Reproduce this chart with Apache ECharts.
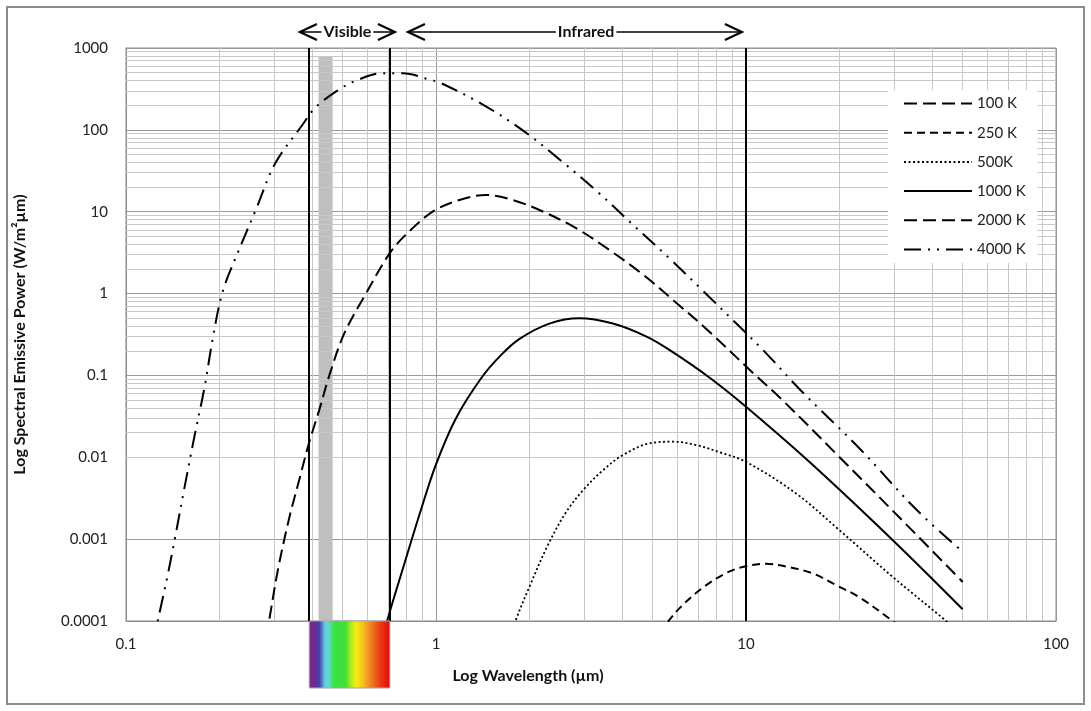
<!DOCTYPE html>
<html><head><meta charset="utf-8">
<script src="https://cdn.jsdelivr.net/npm/echarts@6/dist/echarts.min.js"></script>
<style>html,body{margin:0;padding:0;background:#fff}#c{width:1091px;height:711px}</style>
</head><body><div id="c"></div>
<script>
// ---------- data ----------
const xTickLabels = ['0.1', '1', '10', '100'];
const yTickLabels = ['0.0001', '0.001', '0.01', '0.1', '1', '10', '100', '1000'];
const seriesNames = ['100 K', '250 K', '500K', '1000 K', '2000 K', '4000 K'];

// [wavelength (µm), spectral emissive power]
const s100K = [];
const s250K = [[5.3, 7.2e-5], [5.66, 1.03e-4], [6.25, 1.57e-4], [7.25, 2.55e-4], [8.62, 3.85e-4], [9.84, 4.6e-4],
  [11.6, 5.0e-4], [13.8, 4.55e-4], [16.4, 3.82e-4], [19.5, 2.75e-4], [23.2, 1.95e-4], [29.7, 1.0e-4], [40, 4.2e-5], [50, 2.3e-5]];
const s500K = [[1.7, 5e-5], [1.81, 1.03e-4], [2.0, 2.6e-4], [2.29, 8.3e-4], [2.62, 2.1e-3], [2.97, 3.9e-3],
  [3.45, 6.9e-3], [4.0, 0.0106], [4.88, 0.0148], [5.8, 0.0155], [6.9, 0.0141], [8.41, 0.0112], [10, 8.8e-3],
  [14.5, 3.62e-3], [20, 1.29e-3], [29.7, 3.47e-4], [44.2, 1.0e-4], [50, 6.5e-5]];
const s1000K = [[0.66, 4.5e-5], [0.698, 1.05e-4], [0.8, 5.8e-4], [0.895, 2.3e-3], [1.0, 8.2e-3], [1.16, 0.03],
  [1.4, 0.093], [1.62, 0.177], [1.86, 0.28], [2.32, 0.43], [2.9, 0.5], [3.72, 0.43], [4.76, 0.3],
  [5.66, 0.205], [7.6, 0.095], [10, 0.0414], [16, 0.0088], [29.7, 9.76e-4], [50, 1.39e-4]];
const s2000K = [[0.27, 2.2e-5], [0.29, 1.05e-4], [0.309, 4.2e-4], [0.336, 1.8e-3], [0.362, 5.27e-3], [0.389, 0.0148],
  [0.42, 0.0377], [0.455, 0.106], [0.506, 0.326], [0.587, 0.92], [0.716, 3.27], [0.841, 6.3], [0.987, 10.3],
  [1.19, 13.9], [1.45, 16.0], [1.77, 13.9], [2.21, 10.06], [2.83, 6.3], [3.62, 3.42], [4.64, 1.72], [5.94, 0.78],
  [7.6, 0.345], [10.25, 0.118], [13.1, 0.05], [20, 0.0101], [31.2, 0.00185], [50, 0.0003]];
const s4000K = [[0.12, 4e-5], [0.128, 1.22e-4], [0.136, 3.5e-4], [0.144, 1.05e-3], [0.155, 4.6e-3], [0.166, 0.0175],
  [0.179, 0.07], [0.191, 0.3], [0.205, 1.05], [0.229, 3.11], [0.263, 10.8], [0.303, 39], [0.372, 117],
  [0.408, 187], [0.482, 304], [0.552, 400], [0.673, 491], [0.781, 491], [0.963, 406], [1.03, 378], [1.425, 201],
  [1.93, 95], [2.55, 41], [3.36, 16.8], [4.36, 6.7], [5.7, 2.63], [7.3, 1.06], [9.4, 0.415], [11.5, 0.194],
  [15.0, 0.066], [23.2, 0.0129], [35.3, 0.00233], [50, 0.0007]];
const seriesData = [s100K, s250K, s500K, s1000K, s2000K, s4000K];

const regionLines = [0.39, 0.71, 10];            // vertical black lines (µm)
const greyBand = [0.418, 0.464, 800];            // x from, x to, top value
const spectrumRange = [0.39, 0.71];
const annotations = [
  {text: 'Visible', from: 0.364, to: 0.737, at: 0.518},
  {text: 'Infrared', from: 0.812, to: 9.7, at: 3.05}
];

// ---------- styles ----------
const dashes = {'100 K': [13, 6], '250 K': [8, 5], '500K': [2, 2.5], '1000 K': 'solid', '2000 K': [13, 6], '4000 K': [17, 7, 2, 7, 2, 7]};
const FONT = 'Lato, "Open Sans", sans-serif';

function tickLabel(v, labels) {
  const e = Math.round(Math.log10(v));
  for (const l of labels) if (Math.round(Math.log10(parseFloat(l))) === e) return l;
  return '';
}
function minorVals(lo, hi) {
  const out = [];
  for (let e = lo; e < hi; e++) for (let k = 2; k <= 9; k++) out.push(+(k * Math.pow(10, e)).toPrecision(6));
  return out;
}

const chart = echarts.init(document.getElementById('c'), null, {renderer: 'canvas'});

const curveSeries = seriesNames.map((n, i) => ({
  name: n, type: 'line', data: seriesData[i], showSymbol: false, symbol: 'none', smooth: 0.35,
  silent: true, z: 5, animation: false, itemStyle: {color: '#000'},
  lineStyle: {color: '#000', width: n === '500K' ? 1.8 : 2, type: dashes[n], cap: 'butt'}
}));

const option = {
  animation: false,
  backgroundColor: '#fff',
  grid: {left: 126, right: 35, top: 48, bottom: 90, show: true, borderColor: '#8c8c8c', borderWidth: 1,
    backgroundColor: '#fff', containLabel: false, outerBoundsMode: 'none'},
  xAxis: {
    type: 'log', logBase: 10, min: 0.1, max: 100, splitNumber: 3,
    axisLine: {show: true, onZero: false, lineStyle: {color: '#8c8c8c', width: 1}},
    axisTick: {show: false},
    splitLine: {show: true, lineStyle: {color: '#999', width: 1}},
    axisLabel: {margin: 16, fontFamily: FONT, fontSize: 15, color: '#222', formatter: v => tickLabel(v, xTickLabels)}
  },
  yAxis: {
    type: 'log', logBase: 10, min: 0.0001, max: 1000, splitNumber: 7,
    axisLine: {show: true, lineStyle: {color: '#8c8c8c', width: 1}},
    axisTick: {show: false},
    splitLine: {show: true, lineStyle: {color: '#999', width: 1}},
    axisLabel: {margin: 18, fontFamily: FONT, fontSize: 15, color: '#222', formatter: v => tickLabel(v, yTickLabels)},
    name: 'Log Spectral Emissive Power (W/m\u00B2\u00B5m)', nameLocation: 'middle', nameGap: 98, nameRotate: 90,
    nameTextStyle: {fontFamily: FONT, fontSize: 16, fontWeight: 'bold', color: '#111'}
  },
  legend: {
    data: seriesNames, orient: 'vertical', left: 888, top: 90, padding: [6, 12, 6, 15], z: 100, zlevel: 0,
    itemWidth: 68, itemHeight: 14, itemGap: 14.2, backgroundColor: '#fff', selectedMode: false,
    itemStyle: {color: 'transparent', borderColor: 'transparent', borderWidth: 0, opacity: 0},
    textStyle: {fontFamily: FONT, fontSize: 15, color: '#222', lineHeight: 14}
  },
  series: [
    {
      type: 'line', data: [], silent: true, z: 1, animation: false,
      markLine: {
        silent: true, symbol: ['none', 'none'], label: {show: false}, animation: false,
        emphasis: {disabled: true},
        lineStyle: {color: '#c8c8c8', width: 1, type: 'solid'},
        data: [...minorVals(-1, 2).map(v => ({xAxis: v})), ...minorVals(-4, 3).map(v => ({yAxis: v}))]
      }
    },
    {
      type: 'line', data: [], silent: true, z: 3, animation: false,
      markArea: {
        silent: true, animation: false, itemStyle: {color: '#bfbfbf'}, label: {show: false},
        data: [[{xAxis: greyBand[0], yAxis: 0.0001}, {xAxis: greyBand[1], yAxis: greyBand[2]}]]
      },
      markLine: {
        silent: true, symbol: ['none', 'none'], label: {show: false}, animation: false,
        emphasis: {disabled: true},
        lineStyle: {color: '#000', width: 2, type: 'solid'},
        data: regionLines.map(v => ({xAxis: v}))
      }
    },
    ...curveSeries
  ]
};
chart.setOption(option);

// ---------- decorations positioned through the axes ----------
const P = (x, y) => chart.convertToPixel({gridIndex: 0}, [x, y]);
const yBottom = P(1, 0.0001)[1];
const yTop = P(1, 1000)[1];
const ay = yTop - 16;
const graphics = [];

graphics.push({type: 'rect', silent: true, z: 0,
  shape: {x: 7, y: 7, width: 1077, height: 697},
  style: {fill: 'transparent', stroke: '#8c8c8c', lineWidth: 2}});

const sx0 = P(spectrumRange[0], 1)[0], sx1 = P(spectrumRange[1], 1)[0];
graphics.push({type: 'rect', silent: true, z: 10,
  shape: {x: sx0, y: yBottom, width: sx1 - sx0, height: 67},
  style: {
    stroke: '#a6a6a6', lineWidth: 1,
    fill: new echarts.graphic.LinearGradient(0, 0, 1, 0, [
      {offset: 0, color: '#7d2a86'}, {offset: 0.08, color: '#6e2a92'}, {offset: 0.13, color: '#4040a8'},
      {offset: 0.2, color: '#6ccbe6'}, {offset: 0.25, color: '#5cdcc0'}, {offset: 0.31, color: '#3ae045'},
      {offset: 0.45, color: '#40e035'}, {offset: 0.52, color: '#b4ea20'}, {offset: 0.58, color: '#f2ee10'},
      {offset: 0.66, color: '#f5c41f'}, {offset: 0.77, color: '#f07a22'}, {offset: 0.88, color: '#e83a12'},
      {offset: 1, color: '#e00808'}
    ])
  }});

annotations.forEach(a => {
  const x0 = P(a.from, 1)[0], x1 = P(a.to, 1)[0], xc = P(a.at, 1)[0];
  graphics.push({type: 'line', silent: true, z: 20, shape: {x1: x0, y1: ay, x2: x1, y2: ay},
    style: {stroke: '#000', lineWidth: 1.5}});
  graphics.push({type: 'polyline', silent: true, z: 20, shape: {points: [[x0 + 17, ay - 8], [x0, ay], [x0 + 17, ay + 8]]},
    style: {stroke: '#000', lineWidth: 2.2, fill: null}});
  graphics.push({type: 'polyline', silent: true, z: 20, shape: {points: [[x1 - 17, ay - 8], [x1, ay], [x1 - 17, ay + 8]]},
    style: {stroke: '#000', lineWidth: 2.2, fill: null}});
  graphics.push({type: 'text', silent: true, z: 21, x: xc, y: ay,
    style: {text: a.text, font: 'bold 16px ' + FONT, fill: '#111', align: 'center', verticalAlign: 'middle',
      textAlign: 'center', textVerticalAlign: 'middle', backgroundColor: '#fff', padding: [0, 2]}});
});

graphics.push({type: 'text', silent: true, z: 20, x: 528, y: 676,
  style: {text: 'Log Wavelength (\u00B5m)', font: 'bold 16px ' + FONT, fill: '#111', align: 'center',
    verticalAlign: 'middle', textAlign: 'center', textVerticalAlign: 'middle'}});

chart.setOption({graphic: {elements: graphics}});
</script></body></html>
